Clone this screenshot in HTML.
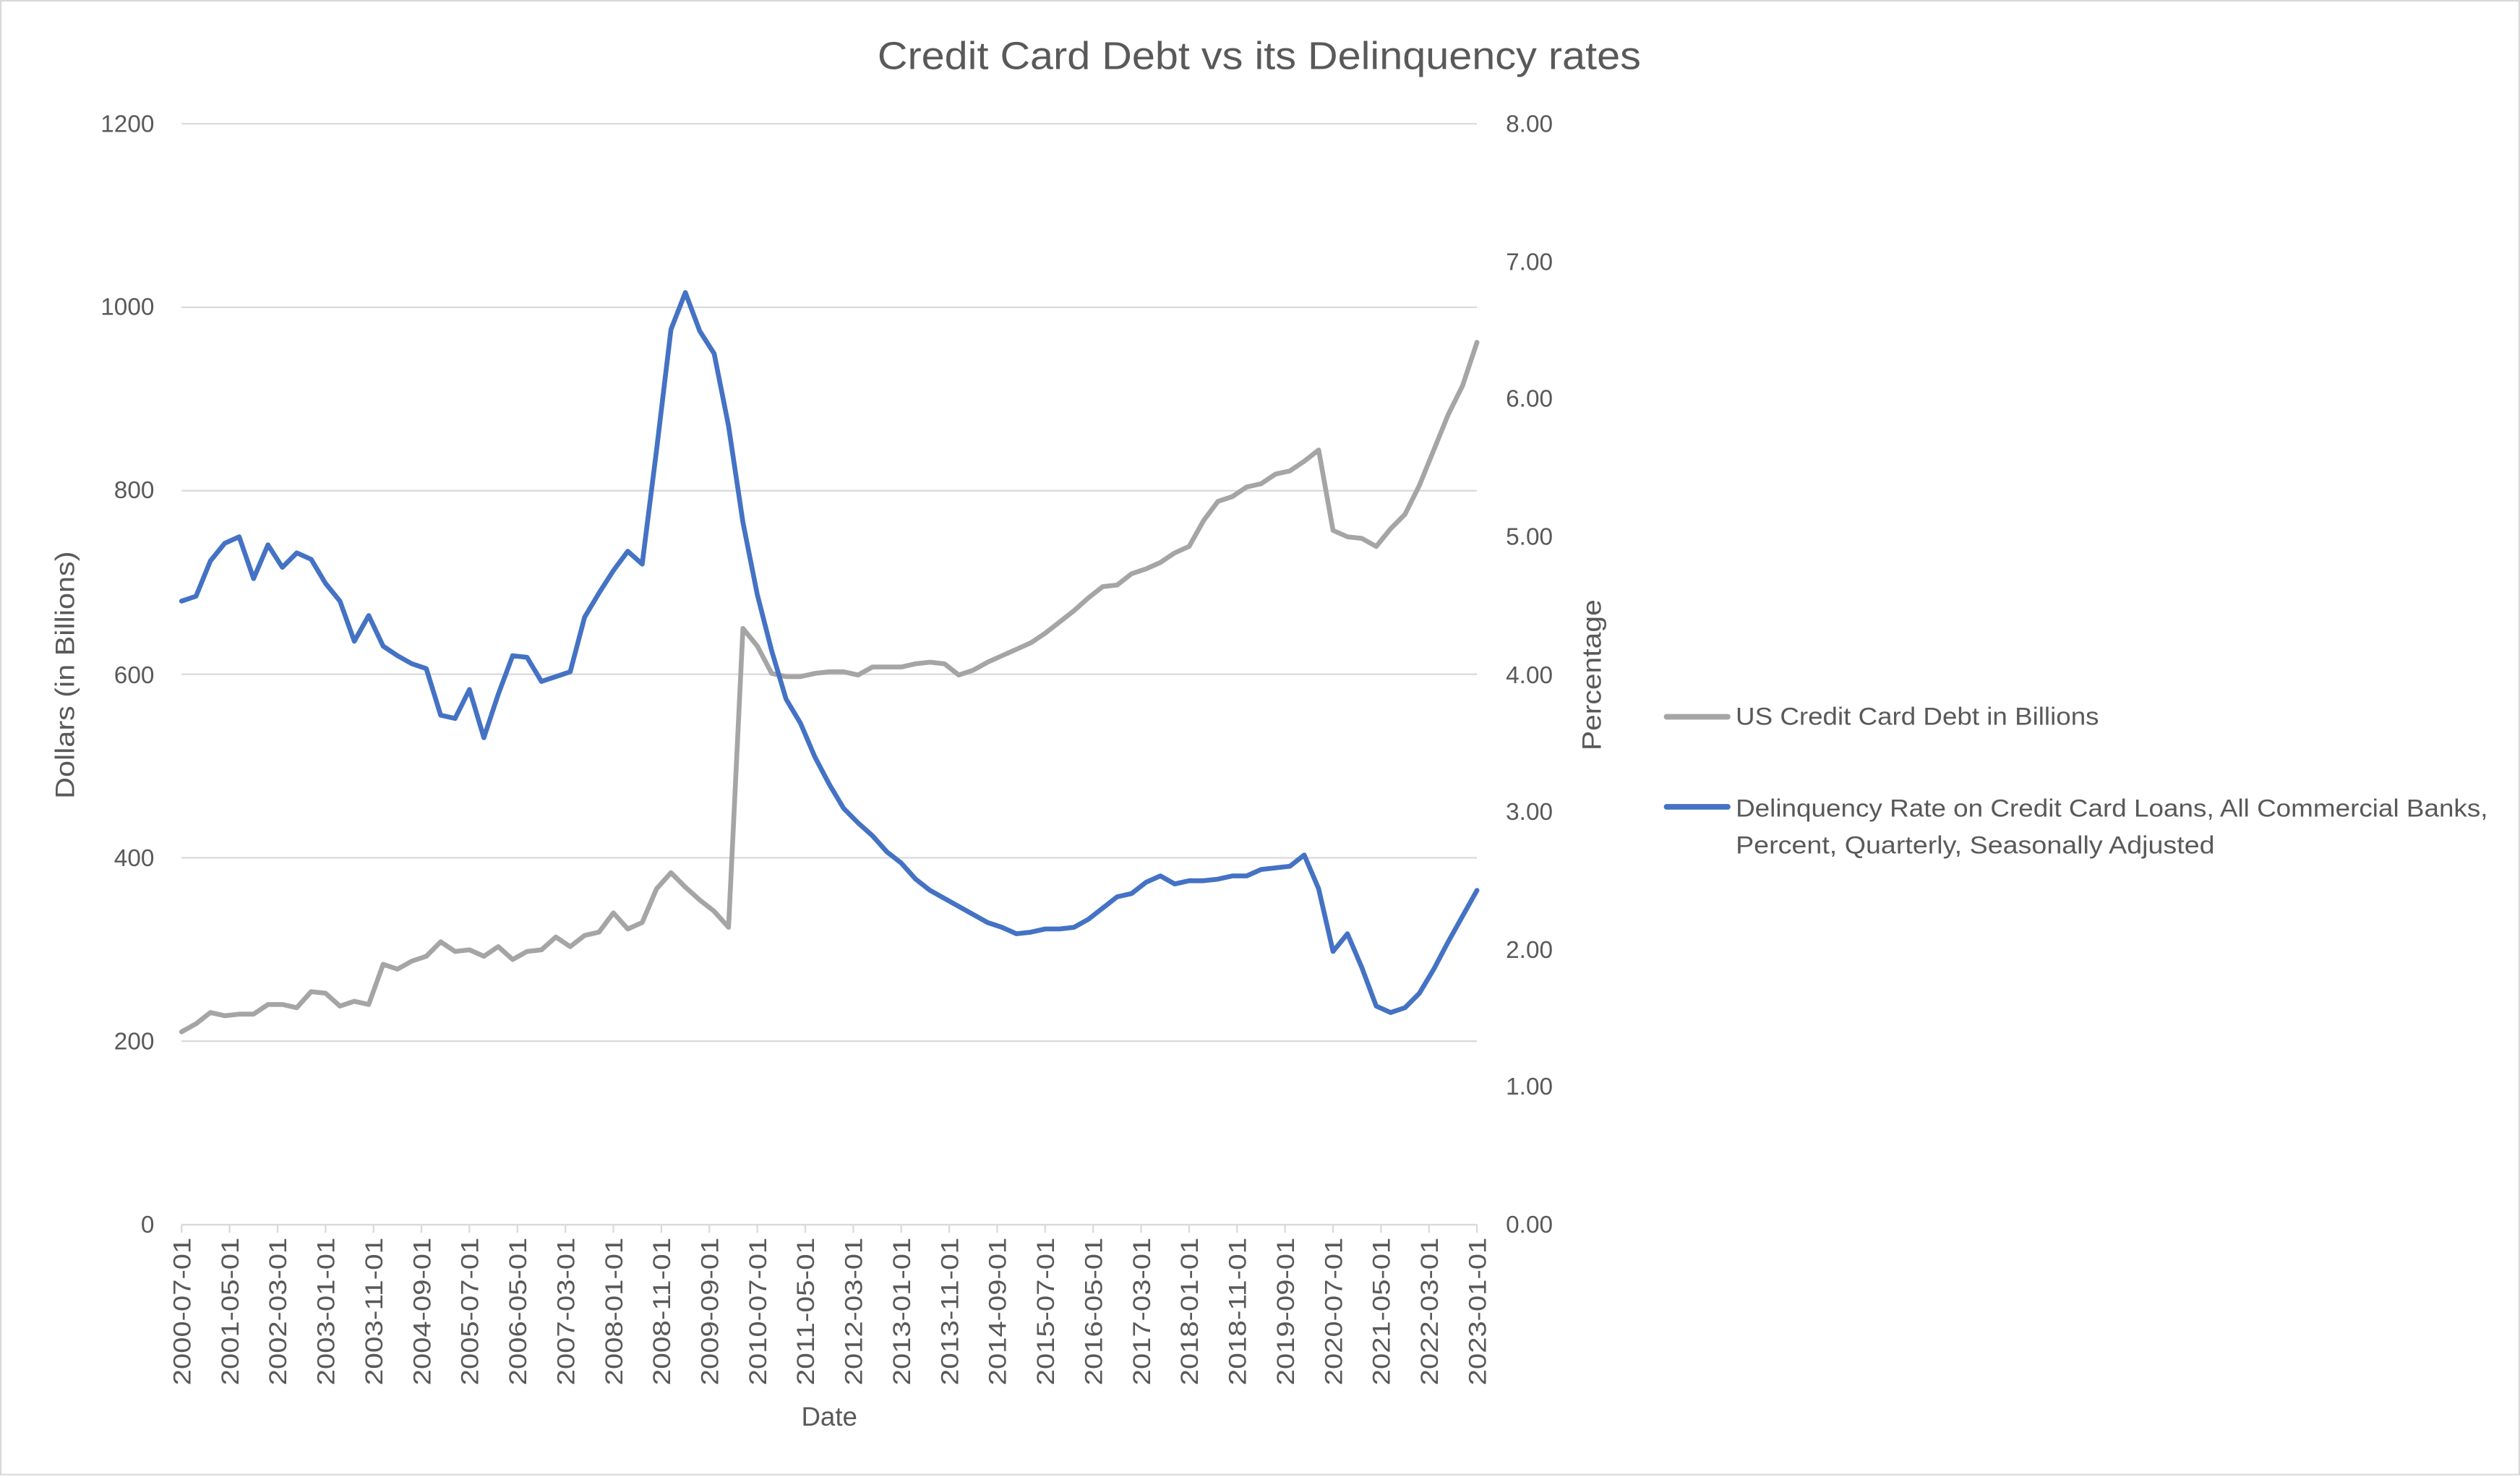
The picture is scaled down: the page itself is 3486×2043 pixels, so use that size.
<!DOCTYPE html>
<html><head><meta charset="utf-8"><style>
html,body{margin:0;padding:0;background:#fff}
svg{display:block}
text{font-family:"Liberation Sans",sans-serif;fill:#595959}
</style></head><body>
<svg width="3486" height="2043" viewBox="0 0 1568 919" preserveAspectRatio="none" xmlns="http://www.w3.org/2000/svg">
<rect x="0.5" y="0.5" width="1567" height="917" fill="#fff" stroke="#d9d9d9" stroke-width="1"/>
<text x="546" y="43" font-size="24" textLength="475" lengthAdjust="spacingAndGlyphs">Credit Card Debt vs its Delinquency rates</text>
<g stroke="#d9d9d9" stroke-width="1">
<line x1="113" x2="919" y1="77" y2="77"/><line x1="113" x2="919" y1="191.2" y2="191.2"/>
<line x1="113" x2="919" y1="305.3" y2="305.3"/><line x1="113" x2="919" y1="419.5" y2="419.5"/>
<line x1="113" x2="919" y1="533.7" y2="533.7"/><line x1="113" x2="919" y1="647.8" y2="647.8"/>
<line x1="113" x2="919" y1="762" y2="762"/>
</g>
<g font-size="15" text-anchor="end">
<text x="96" y="82">1200</text><text x="96" y="196">1000</text><text x="96" y="310">800</text>
<text x="96" y="425">600</text><text x="96" y="539">400</text><text x="96" y="653">200</text><text x="96" y="767">0</text>
</g>
<g font-size="15">
<text x="937" y="82">8.00</text><text x="937" y="168">7.00</text><text x="937" y="253">6.00</text>
<text x="937" y="339">5.00</text><text x="937" y="425">4.00</text><text x="937" y="510">3.00</text>
<text x="937" y="596">2.00</text><text x="937" y="681">1.00</text><text x="937" y="767">0.00</text>
</g>
<text transform="translate(46,497) rotate(-90)" font-size="16.5" textLength="154" lengthAdjust="spacingAndGlyphs">Dollars (in Billions)</text>
<text transform="translate(996,467) rotate(-90)" font-size="16.5" textLength="94" lengthAdjust="spacingAndGlyphs">Percentage</text>
<text x="516" y="887" font-size="16.5" text-anchor="middle">Date</text>
<g id="xt"></g>
<polyline id="gray" fill="none" stroke="#a5a5a5" stroke-width="3" stroke-linejoin="round" stroke-linecap="round"/>
<polyline id="blue" fill="none" stroke="#4472c4" stroke-width="3" stroke-linejoin="round" stroke-linecap="round"/>
<line x1="1037" y1="446" x2="1075" y2="446" stroke="#a5a5a5" stroke-width="3.5" stroke-linecap="round"/>
<text x="1080" y="451" font-size="15.5" textLength="226" lengthAdjust="spacingAndGlyphs">US Credit Card Debt in Billions</text>
<line x1="1037" y1="502" x2="1075" y2="502" stroke="#4472c4" stroke-width="3.5" stroke-linecap="round"/>
<text x="1080" y="508" font-size="15.5" textLength="468" lengthAdjust="spacingAndGlyphs">Delinquency Rate on Credit Card Loans, All Commercial Banks,</text>
<text x="1080" y="531" font-size="15.5" textLength="298" lengthAdjust="spacingAndGlyphs">Percent, Quarterly, Seasonally Adjusted</text>
</svg>
<script>
var ns="http://www.w3.org/2000/svg";
var g=document.getElementById("xt");
var ax=document.createElementNS(ns,"line");
ax.setAttribute("x1",113);ax.setAttribute("x2",919);ax.setAttribute("y1",762);ax.setAttribute("y2",762);
ax.setAttribute("stroke","#d9d9d9");g.appendChild(ax);
for(var k=0;k<28;k++){
 var m=2000*12+6+k*10; var y=Math.floor(m/12), mo=m%12+1;
 var lab=y+"-"+(mo<10?"0":"")+mo+"-01";
 var x=113+k*806/27;
 var t=document.createElementNS(ns,"line");
 t.setAttribute("x1",x);t.setAttribute("x2",x);t.setAttribute("y1",762);t.setAttribute("y2",767);
 t.setAttribute("stroke","#d9d9d9");g.appendChild(t);
 var tx=document.createElementNS(ns,"text");
 tx.setAttribute("transform","translate("+(x+5.5)+",770) rotate(-90)");
 tx.setAttribute("font-size","15.5");tx.setAttribute("text-anchor","end");
 tx.setAttribute("textLength","92");tx.setAttribute("lengthAdjust","spacingAndGlyphs");
 tx.textContent=lab;g.appendChild(tx);
}
var B=[374,371,349,338,334,360,339,353,344,348,363,374,399,383,402,408,413,416,445,447,429,459,432,408,409,424,421,418,384,369,355,343,351,280,205,182,206,220,265,325,370,405,435,450,471,488,503,512,520,530,537,547,554,559,564,569,574,577,581,580,578,578,577,572,565,558,556,549,545,550,548,548,547,545,545,541,540,539,532,553,592,581,602,626,630,627,618,603,586,570,554];
var G=[642,637,630,632,631,631,625,625,627,617,618,626,623,625,600,603,598,595,586,592,591,595,589,597,592,591,583,589,582,580,568,578,574,553,543,552,560,567,577,391,402,419,421,421,419,418,418,420,415,415,415,413,412,413,420,417,412,408,404,400,394,387,380,372,365,364,357,354,350,344,340,324,312,309,303,301,295,293,287,280,330,334,335,340,329,320,302,280,258,240,213];
function pts(a){var n=a.length,s=[];for(var i=0;i<n;i++)s.push((113+i*806/(n-1)).toFixed(2)+","+a[i]);return s.join(" ");}
document.getElementById("gray").setAttribute("points",pts(G));
document.getElementById("blue").setAttribute("points",pts(B));
</script>
</body></html>
